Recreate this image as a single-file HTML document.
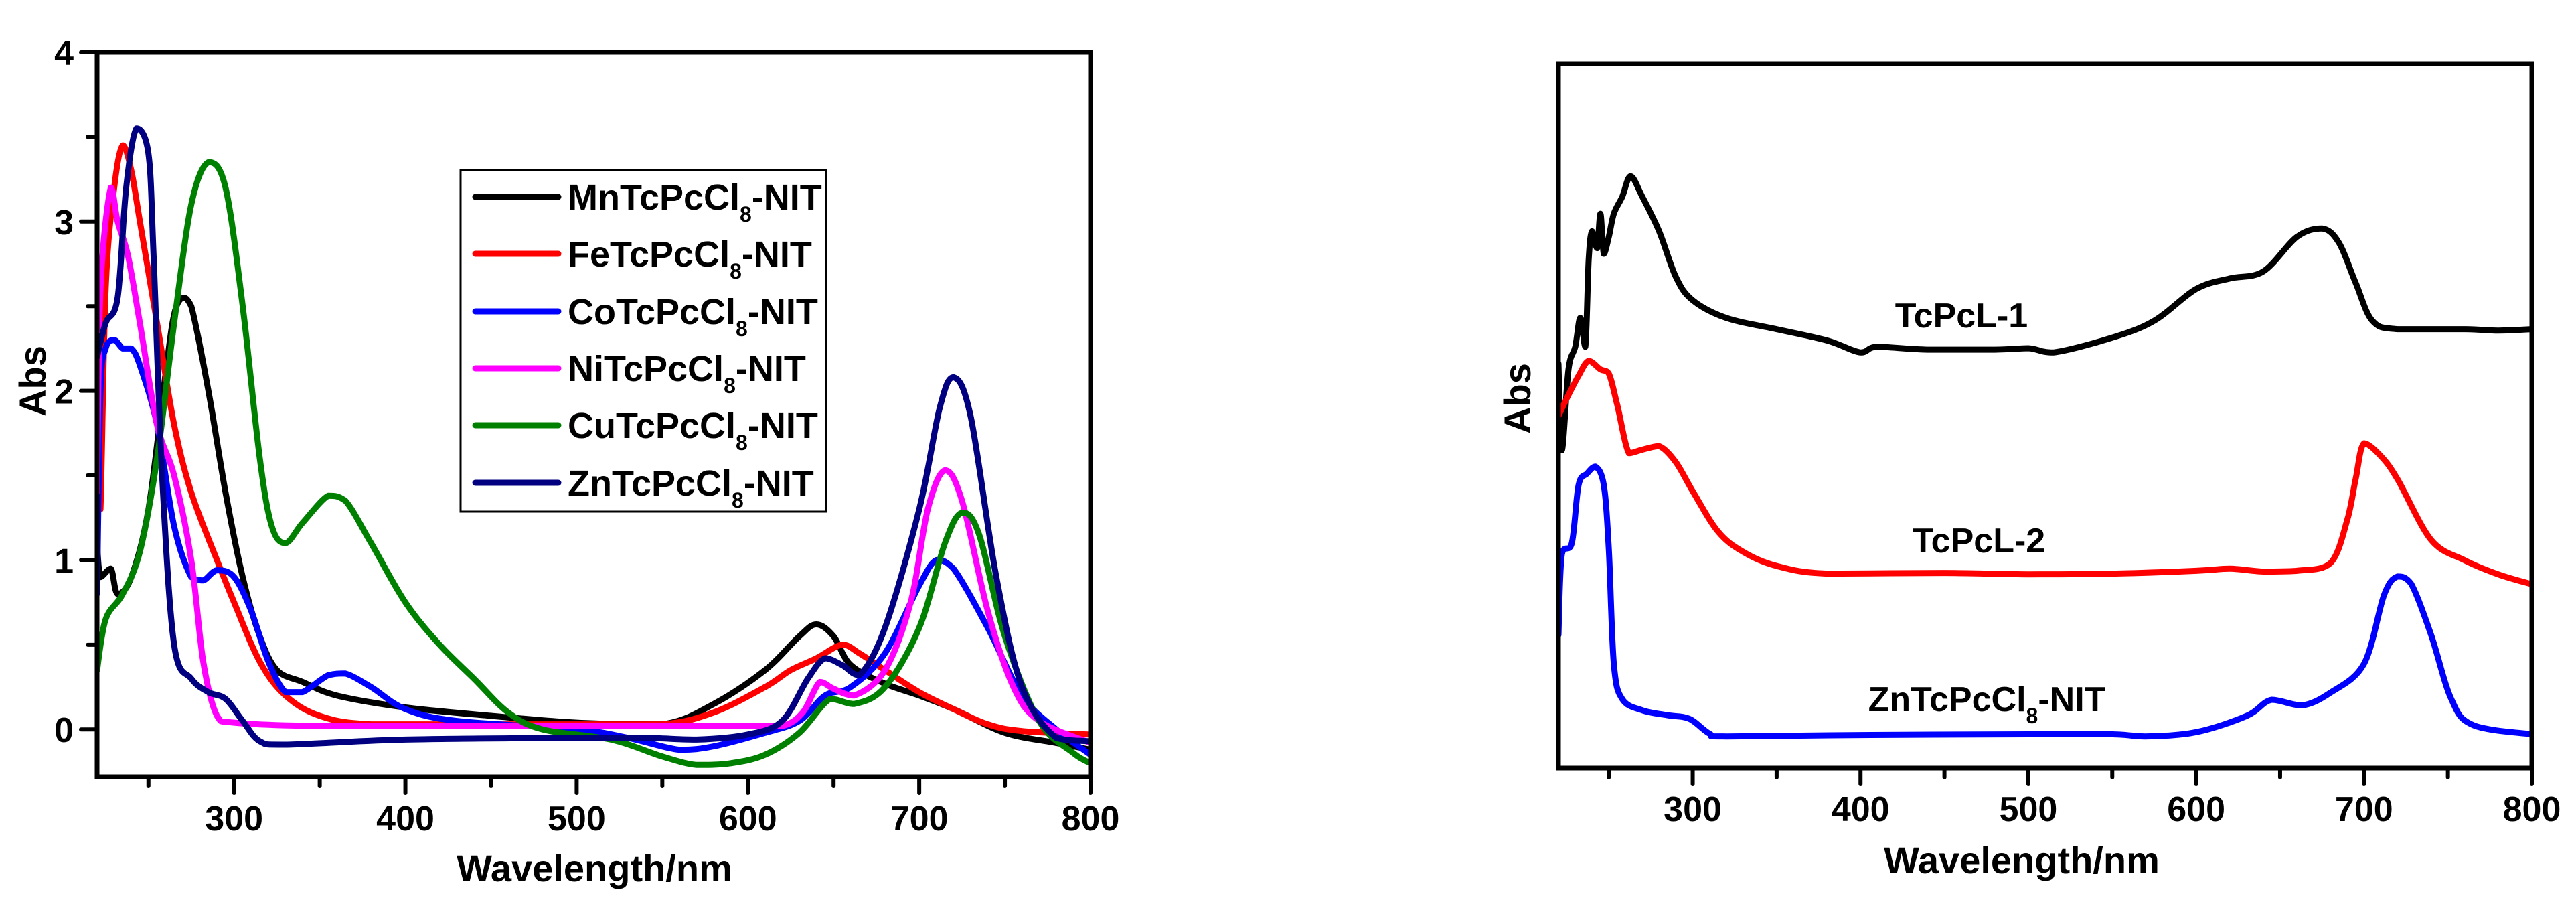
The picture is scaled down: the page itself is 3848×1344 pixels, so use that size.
<!DOCTYPE html>
<html><head><meta charset="utf-8"><style>
html,body{margin:0;padding:0;background:#fff}
svg{display:block}
text{font-family:"Liberation Sans",Arial,sans-serif;font-weight:bold;fill:#000}
</style></head><body>
<svg id="chart" width="3848" height="1344" viewBox="0 0 3848 1344" xmlns="http://www.w3.org/2000/svg">
<g id="left"></g>
<g id="right"></g>
</svg>
<script>
// ---- Left chart data ----
const leftXTicks = [300,400,500,600,700,800];
const leftYTicks = [0,1,2,3,4];
const mnX = [220,222,228,232,240,250,260,265,270,275,285,295,305,315,325,340,360,400,450,500,550,580,610,630,640,650,660,680,700,720,750,780,800];
const mnY = [1.1,0.9,0.95,0.8,0.9,1.3,2.1,2.45,2.55,2.5,2.0,1.4,0.9,0.55,0.35,0.28,0.2,0.13,0.08,0.04,0.03,0.15,0.35,0.55,0.62,0.55,0.38,0.27,0.2,0.12,-0.02,-0.08,-0.12];
const feX = [220,222,225,230,235,240,245,255,265,275,290,300,315,330,350,380,450,500,550,580,610,625,640,655,665,680,700,720,740,760,800];
const feY = [1.3,1.3,2.6,3.2,3.45,3.3,3.0,2.4,1.8,1.4,1.0,0.75,0.4,0.2,0.08,0.03,0.03,0.03,0.03,0.1,0.25,0.35,0.42,0.5,0.45,0.35,0.22,0.12,0.03,-0.01,-0.03];
const coX = [220,222,225,230,235,240,245,255,265,275,282,290,300,310,320,330,340,355,365,380,400,430,500,530,560,580,610,630,645,660,680,700,710,720,740,760,780,800];
const coY = [0.8,2.0,2.25,2.3,2.25,2.25,2.15,1.8,1.2,0.9,0.88,0.94,0.9,0.7,0.4,0.22,0.22,0.32,0.33,0.25,0.12,0.05,0.0,-0.05,-0.12,-0.1,-0.02,0.05,0.2,0.25,0.45,0.85,1.0,0.95,0.6,0.2,0.0,-0.15];
const niX = [220,222,228,232,238,245,255,265,275,282,290,300,350,450,600,620,632,642,650,662,680,695,705,715,725,740,755,770,800];
const niY = [1.4,2.6,3.2,3.0,2.8,2.4,1.8,1.5,1.0,0.4,0.08,0.04,0.02,0.02,0.02,0.02,0.1,0.28,0.24,0.2,0.35,0.75,1.3,1.53,1.35,0.7,0.25,0.05,-0.08];
const cuX = [220,225,235,245,255,265,275,285,295,305,315,322,330,340,355,365,380,400,420,440,460,480,520,550,570,590,610,630,648,662,680,700,715,725,735,750,770,790,800];
const cuY = [0.35,0.65,0.8,1.05,1.6,2.4,3.1,3.35,3.2,2.5,1.6,1.2,1.1,1.22,1.38,1.35,1.1,0.75,0.5,0.3,0.1,0.0,-0.06,-0.16,-0.21,-0.2,-0.15,-0.02,0.18,0.15,0.25,0.6,1.1,1.28,1.15,0.55,0.05,-0.14,-0.2];
const znX = [220,225,232,237,243,250,253,258,265,275,285,295,305,315,330,400,500,540,570,600,620,635,645,655,665,680,700,712,720,730,745,760,780,800];
const znY = [2.2,2.4,2.55,3.2,3.55,3.4,2.8,1.5,0.5,0.3,0.22,0.18,0.05,-0.07,-0.09,-0.06,-0.05,-0.05,-0.06,-0.03,0.05,0.3,0.42,0.38,0.32,0.6,1.3,1.9,2.08,1.85,0.9,0.25,-0.05,-0.07];
const leftNames = ["Mn","Fe","Co","Ni","Cu","Zn"];

// ---- Right chart data (offset, arbitrary units) ----
const rightXTicks = [300,400,500,600,700,800];
const l1X = [220,222,226,230,233,236,238,240,243,245,247,250,253,258,263,270,280,290,300,320,350,380,400,410,440,480,500,515,550,575,600,620,640,660,675,685,695,705,720,760,780,800];
const l1Y = [57.4,45.1,56.6,59.8,63.9,59.8,72.1,76.2,73.8,78.7,73.0,75.4,78.7,81.1,84.0,81.1,76.2,69.7,66.4,63.9,62.3,60.7,59.0,59.8,59.4,59.4,59.6,59.0,61.1,63.5,68.0,69.5,70.5,75.4,76.6,74.6,68.9,63.5,62.3,62.3,62.1,62.3];
const l2X = [220,225,232,238,245,250,255,262,270,280,290,300,315,330,350,380,450,500,550,600,620,640,660,680,690,695,700,710,720,740,760,780,800];
const l2Y = [50,52.5,55.7,57.8,56.6,56,51.6,44.7,45.2,45.7,43.4,39.3,33.6,30.7,28.7,27.6,27.7,27.5,27.6,28,28.3,27.9,28,29.1,35.2,41,46.1,44.3,41,32.4,29.5,27.5,26.1];
const zX = [220,222,228,232,237,242,247,250,253,258,270,285,298,310,320,400,500,550,570,600,630,645,663,680,700,712,720,728,740,752,765,800];
const zY = [18.9,30.3,32,40.2,41.8,42.8,40.2,31.1,14.8,9.8,8.2,7.5,7.0,4.9,4.5,4.7,4.8,4.8,4.5,5.1,7.4,9.7,8.9,10.7,14.8,24.6,27.2,26.2,18.9,9.8,6.1,4.8];

const NS="http://www.w3.org/2000/svg";
function mk(parent,tag,attrs){const e=document.createElementNS(NS,tag);for(const k in attrs)e.setAttribute(k,attrs[k]);parent.appendChild(e);return e;}

const L={x0:145,x1:1629,y0:78,y1:1160,xmin:220,xmax:800,ymin:-0.28,ymax:4};
L.sy=(L.y1-L.y0)/(L.ymax-L.ymin);
const lx=v=>L.x0+(v-L.xmin)/(L.xmax-L.xmin)*(L.x1-L.x0);
const ly=v=>L.y0+(L.ymax-v)*L.sy;
const R={x0:2328,x1:3782,y0:95,y1:1147,xmin:220,xmax:800,ymin:0,ymax:100};
const rx=v=>R.x0+(v-R.xmin)/(R.xmax-R.xmin)*(R.x1-R.x0);
const ry=v=>R.y1-(v-R.ymin)/(R.ymax-R.ymin)*(R.y1-R.y0);

const gl=document.getElementById('left');
const gr=document.getElementById('right');

function smoothPath(P){
  let d='M'+P[0][0].toFixed(1)+','+P[0][1].toFixed(1);
  for(let i=0;i<P.length-1;i++){
    const p0=P[i-1]||P[i],p1=P[i],p2=P[i+1],p3=P[i+2]||P[i+1];
    const t=1/6;
    let c1x=p1[0]+(p2[0]-p0[0])*t,c1y=p1[1]+(p2[1]-p0[1])*t;
    let c2x=p2[0]-(p3[0]-p1[0])*t,c2y=p2[1]-(p3[1]-p1[1])*t;
    const lo=Math.min(p1[1],p2[1]),hi=Math.max(p1[1],p2[1]);
    c1y=Math.min(hi,Math.max(lo,c1y));c2y=Math.min(hi,Math.max(lo,c2y));
    d+=' C'+c1x.toFixed(1)+','+c1y.toFixed(1)+' '+c2x.toFixed(1)+','+c2y.toFixed(1)+' '+p2[0].toFixed(1)+','+p2[1].toFixed(1);
  }
  return d;
}
function drawSeries(g,xs,ys,fx,fy,color,name){
  const P=xs.map((x,i)=>[fx(x),fy(ys[i])]);
  const p=mk(g,'path',{d:smoothPath(P),fill:'none',stroke:color,'stroke-width':9,'stroke-linejoin':'round','stroke-linecap':'round'});
  
  
}

const defs=mk(document.getElementById('chart'),'defs',{});
const c1=mk(defs,'clipPath',{id:'cl'});mk(c1,'rect',{x:L.x0,y:L.y0,width:L.x1-L.x0,height:L.y1-L.y0});
const c2=mk(defs,'clipPath',{id:'cr'});mk(c2,'rect',{x:R.x0,y:R.y0,width:R.x1-R.x0,height:R.y1-R.y0});

const sl=mk(gl,'g',{'clip-path':'url(#cl)'});


const leftColors=['#000000','#ff0000','#0000ff','#ff00ff','#008000','#000080'];
const leftData=[[mnX,mnY],[feX,feY],[coX,coY],[niX,niY],[cuX,cuY],[znX,znY]];
leftData.forEach((d,i)=>drawSeries(sl,d[0],d[1],lx,ly,leftColors[i],'series-'+leftNames[i].toLowerCase()));

const f1=mk(gl,'rect',{x:L.x0,y:L.y0,width:L.x1-L.x0,height:L.y1-L.y0,fill:'none',stroke:'#000','stroke-width':7});


for(let v=250;v<=800;v+=50){
  const major=v%100===0;
  const t=mk(gl,'line',{x1:lx(v),x2:lx(v),y1:L.y1,y2:L.y1+(major?24:14),stroke:'#000','stroke-width':6,'stroke-linecap':'round'});
  
  
}
leftXTicks.forEach(v=>{
  const t=mk(gl,'text',{x:lx(v),y:1240,'font-size':52,'text-anchor':'middle'});t.textContent=v;
  
  
});
for(let v=0;v<=4;v+=0.5){
  const major=Number.isInteger(v);
  const t=mk(gl,'line',{x1:L.x0,x2:L.x0-(major?24:14),y1:ly(v),y2:ly(v),stroke:'#000','stroke-width':6,'stroke-linecap':'round'});
  
  
}
leftYTicks.forEach(v=>{
  const t=mk(gl,'text',{x:110,y:ly(v)+19,'font-size':52,'text-anchor':'end'});t.textContent=v;
  
  
});
const xt1=mk(gl,'text',{x:888,y:1316,'font-size':56,'text-anchor':'middle'});xt1.textContent='Wavelength/nm';


const yt1=mk(gl,'text',{x:0,y:0,'font-size':56,'text-anchor':'middle',transform:'translate(68,569) rotate(-90)'});yt1.textContent='Abs';



const lg=mk(gl,'g',{});


mk(lg,'rect',{x:688,y:254,width:546,height:510,fill:'#fff',stroke:'#000','stroke-width':3});
const legY=[294,379,465,550,635,721];
leftNames.forEach((n,i)=>{
  const e=mk(lg,'g',{});
  
  
  mk(e,'line',{x1:710,x2:834,y1:legY[i],y2:legY[i],stroke:leftColors[i],'stroke-width':9,'stroke-linecap':'round'});
  const t=mk(e,'text',{x:848,y:legY[i]+19,'font-size':54});
  t.innerHTML=n+'TcPcCl<tspan font-size="32" dy="18">8</tspan><tspan dy="-18">-NIT</tspan>';
});

const sr=mk(gr,'g',{'clip-path':'url(#cr)'});


drawSeries(sr,l1X,l1Y,rx,ry,'#000000','series-tcpcl-1');
drawSeries(sr,l2X,l2Y,rx,ry,'#ff0000','series-tcpcl-2');
drawSeries(sr,zX,zY,rx,ry,'#0000ff','series-zntcpccl8-nit');
const f2=mk(gr,'rect',{x:R.x0,y:R.y0,width:R.x1-R.x0,height:R.y1-R.y0,fill:'none',stroke:'#000','stroke-width':7});


for(let v=250;v<=800;v+=50){
  const major=v%100===0;
  const t=mk(gr,'line',{x1:rx(v),x2:rx(v),y1:R.y1,y2:R.y1+(major?24:14),stroke:'#000','stroke-width':6,'stroke-linecap':'round'});
  
  
}
rightXTicks.forEach(v=>{
  const t=mk(gr,'text',{x:rx(v),y:1226,'font-size':52,'text-anchor':'middle'});t.textContent=v;
  
  
});
const xt2=mk(gr,'text',{x:3020,y:1304,'font-size':56,'text-anchor':'middle'});xt2.textContent='Wavelength/nm';


const yt2=mk(gr,'text',{x:0,y:0,'font-size':56,'text-anchor':'middle',transform:'translate(2286,595) rotate(-90)'});yt2.textContent='Abs';


const a1=mk(gr,'text',{x:2930,y:489,'font-size':52,'text-anchor':'middle'});a1.textContent='TcPcL-1';


const a2=mk(gr,'text',{x:2956,y:825,'font-size':52,'text-anchor':'middle'});a2.textContent='TcPcL-2';


const a3=mk(gr,'text',{x:2968,y:1062,'font-size':52,'text-anchor':'middle'});
a3.innerHTML='ZnTcPcCl<tspan font-size="32" dy="18">8</tspan><tspan dy="-18">-NIT</tspan>';


</script>
</body></html>
